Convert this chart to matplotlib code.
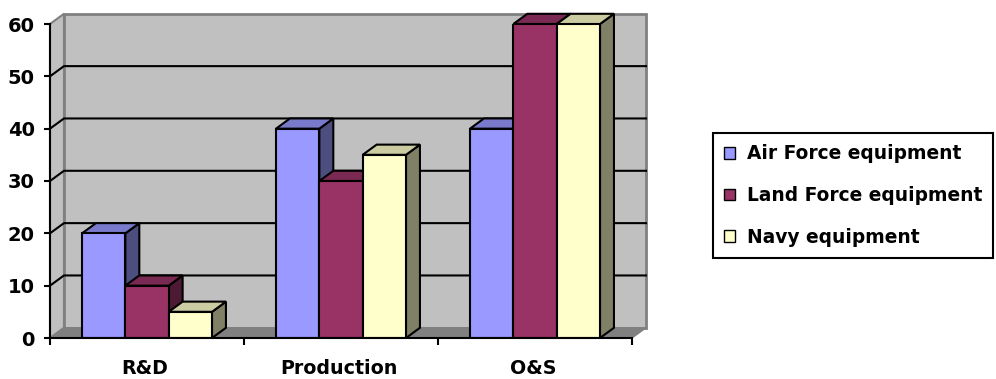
import matplotlib as mpl
mpl.use('Agg')
import matplotlib.pyplot as plt
from matplotlib.patches import Polygon

categorie = ['R&D', 'Production', 'O&S']
serie = ['Air Force equipment', 'Land Force equipment', 'Navy equipment']
air = [20, 40, 40]
land = [10, 30, 60]
navy = [5, 35, 60]
valori = [air, land, navy]

# front, top and side colours for each series
fronte = ['#9999FF', '#993366', '#FFFFCC']
sopra = ['#7A7ACC', '#7A2952', '#CCCCA3']
lato = ['#4D4D80', '#4D1A33', '#808066']

plt.rcParams['font.family'] = 'DejaVu Sans'
plt.rcParams['font.weight'] = 'bold'

fig = plt.figure(figsize=(9.96, 3.79), dpi=100)
ax = fig.add_axes([50 / 996, 41 / 379, 582 / 996, 314 / 379])
ax.set_xlim(0, 3)
ax.set_ylim(0, 60)

# depth of the fake 3d box, in data units
dx = 0.072
dy = 1.95
ymax = 60

# walls and floor
ax.add_patch(Polygon([(0, 0), (dx, dy), (dx, ymax + dy), (0, ymax)],
                     closed=True, facecolor='#C0C0C0', edgecolor='#808080',
                     linewidth=1.5, clip_on=False, zorder=0))
ax.add_patch(Polygon([(dx, dy), (3 + dx, dy), (3 + dx, ymax + dy), (dx, ymax + dy)],
                     closed=True, facecolor='#C0C0C0', edgecolor='#808080',
                     linewidth=2, clip_on=False, zorder=0))
ax.add_patch(Polygon([(0, 0), (dx, dy), (3 + dx, dy), (3, 0)],
                     closed=True, facecolor='#808080', edgecolor='#808080',
                     linewidth=1, clip_on=False, zorder=0.5))

# gridlines on the back wall and on the left wall
for v in range(10, 60, 10):
    ax.plot([0, dx, 3 + dx], [v, v + dy, v + dy], color='black',
            linewidth=1.5, clip_on=False, zorder=1)

# columns
larghezza = 0.67 / 3
for j in range(3):
    xs = [i + 0.165 + j * larghezza for i in range(3)]
    barre = ax.bar(xs, valori[j], larghezza, align='edge', color=fronte[j],
                   edgecolor='black', linewidth=1.5, label=serie[j],
                   zorder=3 + j)
    for b in barre:
        x0 = b.get_x()
        x1 = x0 + b.get_width()
        h = b.get_height()
        ax.add_patch(Polygon([(x1, 0), (x1 + dx, dy), (x1 + dx, h + dy), (x1, h)],
                             closed=True, facecolor=lato[j], edgecolor='black',
                             linewidth=1.5, clip_on=False, zorder=2.9 + j))
        ax.add_patch(Polygon([(x0, h), (x0 + dx, h + dy), (x1 + dx, h + dy), (x1, h)],
                             closed=True, facecolor=sopra[j], edgecolor='black',
                             linewidth=1.5, clip_on=False, zorder=2.9 + j))

# axes
ax.spines['top'].set_visible(False)
ax.spines['right'].set_visible(False)
ax.spines['left'].set_linewidth(1.5)
ax.spines['bottom'].set_linewidth(1.5)
ax.spines['left'].set_zorder(7)
ax.spines['bottom'].set_zorder(7)
ax.set_facecolor('none')

ax.set_yticks(range(0, 70, 10))
ax.tick_params(axis='y', direction='out', length=4, width=1.5, pad=7,
               labelsize=14)
ax.set_xticks([0, 1, 2, 3])
ax.set_xticklabels([])
ax.tick_params(axis='x', which='major', direction='out', length=5, width=1.5)
ax.set_xticks([0.49, 1.49, 2.49], minor=True)
ax.set_xticklabels(categorie, minor=True)
ax.tick_params(axis='x', which='minor', length=0, pad=15, labelsize=13.7)

leg = fig.legend(loc='upper left', bbox_to_anchor=(713 / 996, 1 - 133 / 379),
                 fontsize=13.4, frameon=True, fancybox=False, framealpha=1,
                 borderpad=0.6, labelspacing=1.23, handlelength=0.6,
                 handleheight=0.6, handletextpad=0.6, borderaxespad=0)
leg.get_frame().set_edgecolor('black')
leg.get_frame().set_linewidth(1.5)
for h in leg.legend_handles:
    h.set_linewidth(1)

fig.savefig('out.png', dpi=100)
